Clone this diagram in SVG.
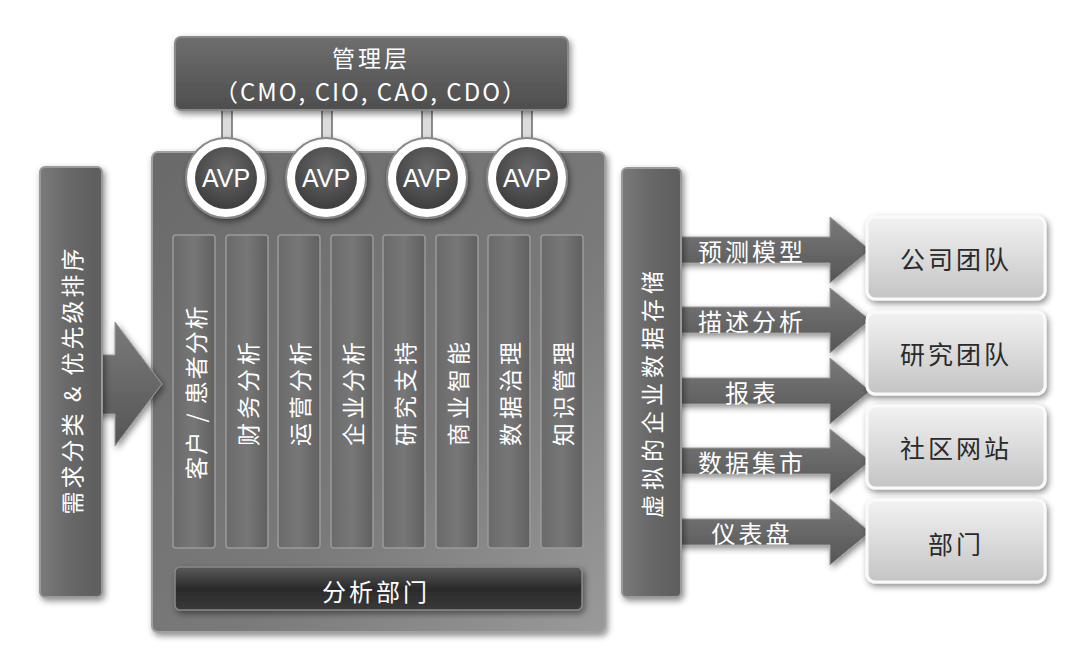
<svg xmlns="http://www.w3.org/2000/svg" width="1080" height="658" viewBox="0 0 1080 658">
<defs>
<linearGradient id="gTop" x1="0" y1="0" x2="0" y2="1"><stop offset="0" stop-color="#6e6e6e"/><stop offset="1" stop-color="#4e4e4e"/></linearGradient>
<linearGradient id="gPanel" x1="0" y1="0" x2="1" y2="1"><stop offset="0" stop-color="#6a6a6a"/><stop offset="0.6" stop-color="#7a7a7a"/><stop offset="1" stop-color="#9a9a9a"/></linearGradient>
<linearGradient id="gBar" x1="0" y1="0" x2="1" y2="0"><stop offset="0" stop-color="#7a7a7a"/><stop offset="0.5" stop-color="#676767"/><stop offset="1" stop-color="#5e5e5e"/></linearGradient>
<linearGradient id="gCol" x1="0" y1="0" x2="1" y2="0"><stop offset="0" stop-color="#6a6a6a"/><stop offset="0.5" stop-color="#777777"/><stop offset="1" stop-color="#606060"/></linearGradient>
<linearGradient id="gDept" x1="0" y1="0" x2="0" y2="1"><stop offset="0" stop-color="#5a5a5a"/><stop offset="0.5" stop-color="#2a2a2a"/><stop offset="1" stop-color="#3a3a3a"/></linearGradient>
<linearGradient id="gArrow" x1="0" y1="0" x2="0" y2="1"><stop offset="0" stop-color="#7a7a7a"/><stop offset="1" stop-color="#555555"/></linearGradient>
<linearGradient id="gBox" x1="0" y1="0" x2="0" y2="1"><stop offset="0" stop-color="#f2f2f2"/><stop offset="1" stop-color="#c4c4c4"/></linearGradient>
<radialGradient id="gAvp" cx="0.5" cy="0.35" r="0.7"><stop offset="0" stop-color="#6a6a6a"/><stop offset="1" stop-color="#3a3a3a"/></radialGradient>
<filter id="sh" x="-20%" y="-20%" width="140%" height="140%"><feDropShadow dx="2" dy="3" stdDeviation="3" flood-color="#000" flood-opacity="0.45"/></filter>
</defs>
<style>
.w{fill:#fff;font-family:"Noto Sans CJK SC","Liberation Sans",sans-serif;}
.c{text-anchor:middle;dominant-baseline:central;}
.col{fill:url(#gCol);stroke:#9a9a9a;stroke-width:1.5;}
.arr{fill:url(#gArrow);stroke:#9a9a9a;stroke-width:1;filter:url(#sh);}
.box{fill:url(#gBox);stroke:#fafafa;stroke-width:3;filter:url(#sh);}
.bt{fill:#2a2a2a;font-family:"Noto Sans CJK SC","Liberation Sans",sans-serif;font-size:25px;letter-spacing:3px;}
.conn{fill:#dcdcdc;stroke:#6a6a6a;stroke-width:1.5;}
.avp{fill:#fff;font-family:"Liberation Sans",sans-serif;font-size:25px;}
</style>
<rect width="1080" height="658" fill="#fff"/>

<g id="panel">
<rect x="152" y="152" width="453" height="480" rx="6" fill="url(#gPanel)" stroke="#a0a0a0" stroke-width="2" filter="url(#sh)"/>
</g>

<g id="connectors">
<rect class="conn" x="222" y="108" width="10" height="36"/>
<rect class="conn" x="322" y="108" width="10" height="36"/>
<rect class="conn" x="422" y="108" width="10" height="36"/>
<rect class="conn" x="522" y="108" width="10" height="36"/>
<polygon class="arr" points="90,355 115,355 115,322 162,384 115,446 115,414 90,414"/>
<polygon class="arr" points="673,237 830,237 830,217 870,250 830,283 830,263 673,263"/>
<polygon class="arr" points="673,307 830,307 830,288 870,320 830,353 830,333 673,333"/>
<polygon class="arr" points="673,378 830,378 830,358 870,391 830,424 830,404 673,404"/>
<polygon class="arr" points="673,448 830,448 830,429 870,461 830,494 830,474 673,474"/>
<polygon class="arr" points="673,519 830,519 830,499 870,532 830,565 830,545 673,545"/>
</g>

<g id="mgmt">
<rect x="175" y="37" width="393" height="73" rx="6" fill="url(#gTop)" stroke="#8a8a8a" stroke-width="2" filter="url(#sh)"/>
<text class="w c" x="371" y="57" font-size="23" letter-spacing="3">管理层</text>
<text class="w c" x="371" y="90" font-size="24" letter-spacing="2">（CMO, CIO, CAO, CDO）</text>
</g>

<g id="avp1"><circle cx="226" cy="178" r="40" fill="#fff" stroke="#8a8a8a" stroke-width="2" filter="url(#sh)"/><circle cx="226" cy="178" r="31" fill="url(#gAvp)"/><text class="avp c" x="226" y="178">AVP</text></g>
<g id="avp2"><circle cx="326" cy="178" r="40" fill="#fff" stroke="#8a8a8a" stroke-width="2" filter="url(#sh)"/><circle cx="326" cy="178" r="31" fill="url(#gAvp)"/><text class="avp c" x="326" y="178">AVP</text></g>
<g id="avp3"><circle cx="427" cy="178" r="40" fill="#fff" stroke="#8a8a8a" stroke-width="2" filter="url(#sh)"/><circle cx="427" cy="178" r="31" fill="url(#gAvp)"/><text class="avp c" x="427" y="178">AVP</text></g>
<g id="avp4"><circle cx="527" cy="178" r="40" fill="#fff" stroke="#8a8a8a" stroke-width="2" filter="url(#sh)"/><circle cx="527" cy="178" r="31" fill="url(#gAvp)"/><text class="avp c" x="527" y="178">AVP</text></g>

<g id="col1"><rect class="col" x="173" y="235" width="42" height="313" rx="3"/><text class="w c" transform="translate(195,392) rotate(-90)" font-size="23" letter-spacing="2">客户 / 患者分析</text></g>
<g id="col2"><rect class="col" x="226" y="235" width="42" height="313" rx="3"/><text class="w c" transform="translate(247,392) rotate(-90)" font-size="23" letter-spacing="4">财务分析</text></g>
<g id="col3"><rect class="col" x="278" y="235" width="42" height="313" rx="3"/><text class="w c" transform="translate(299,392) rotate(-90)" font-size="23" letter-spacing="4">运营分析</text></g>
<g id="col4"><rect class="col" x="331" y="235" width="42" height="313" rx="3"/><text class="w c" transform="translate(352,392) rotate(-90)" font-size="23" letter-spacing="4">企业分析</text></g>
<g id="col5"><rect class="col" x="383" y="235" width="42" height="313" rx="3"/><text class="w c" transform="translate(404,392) rotate(-90)" font-size="23" letter-spacing="4">研究支持</text></g>
<g id="col6"><rect class="col" x="436" y="235" width="42" height="313" rx="3"/><text class="w c" transform="translate(457,392) rotate(-90)" font-size="23" letter-spacing="4">商业智能</text></g>
<g id="col7"><rect class="col" x="488" y="235" width="42" height="313" rx="3"/><text class="w c" transform="translate(509,392) rotate(-90)" font-size="23" letter-spacing="4">数据治理</text></g>
<g id="col8"><rect class="col" x="541" y="235" width="42" height="313" rx="3"/><text class="w c" transform="translate(562,392) rotate(-90)" font-size="23" letter-spacing="4">知识管理</text></g>

<g id="dept">
<rect x="175" y="567" width="407" height="43" rx="5" fill="url(#gDept)" stroke="#888" stroke-width="1.5" filter="url(#sh)"/>
<text class="w c" x="376" y="590" font-size="24" letter-spacing="3">分析部门</text>
</g>

<g id="leftbar">
<rect x="40" y="167" width="62" height="430" rx="5" fill="url(#gBar)" stroke="#9a9a9a" stroke-width="2" filter="url(#sh)"/>
<text class="w c" transform="translate(71,380) rotate(-90)" font-size="23" letter-spacing="3">需求分类 &amp; 优先级排序</text>
</g>

<g id="rightbar">
<rect x="622" y="168" width="59" height="429" rx="5" fill="url(#gBar)" stroke="#9a9a9a" stroke-width="2" filter="url(#sh)"/>
<text class="w c" transform="translate(651,392) rotate(-90)" font-size="23" letter-spacing="5">虚拟的企业数据存储</text>
</g>

<g id="labels">
<text class="w c" x="752" y="250" font-size="24" letter-spacing="3">预测模型</text>
<text class="w c" x="752" y="320" font-size="24" letter-spacing="3">描述分析</text>
<text class="w c" x="752" y="391" font-size="24" letter-spacing="3">报表</text>
<text class="w c" x="752" y="461" font-size="24" letter-spacing="3">数据集市</text>
<text class="w c" x="752" y="532" font-size="24" letter-spacing="3">仪表盘</text>
</g>

<g id="box1"><rect class="box" x="867" y="217" width="178" height="82" rx="8"/><text class="bt c" x="956" y="258">公司团队</text></g>
<g id="box2"><rect class="box" x="867" y="312" width="178" height="82" rx="8"/><text class="bt c" x="956" y="353">研究团队</text></g>
<g id="box3"><rect class="box" x="867" y="406" width="178" height="82" rx="8"/><text class="bt c" x="956" y="447">社区网站</text></g>
<g id="box4"><rect class="box" x="867" y="500" width="178" height="82" rx="8"/><text class="bt c" x="956" y="543">部门</text></g>
</svg>
